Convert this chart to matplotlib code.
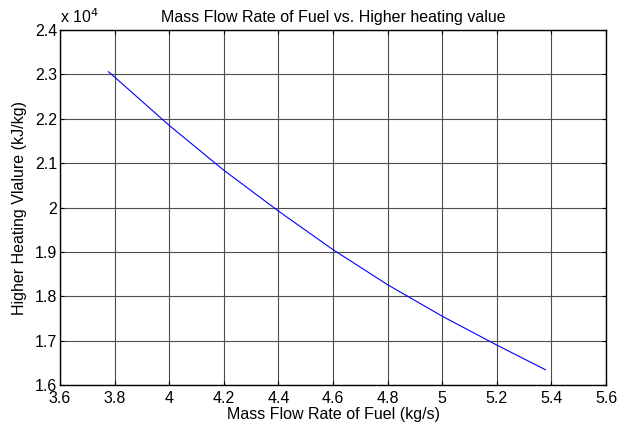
import matplotlib
matplotlib.use("Agg")
import matplotlib.pyplot as plt
from matplotlib.ticker import FuncFormatter

plt.rcParams['font.family'] = ['Liberation Sans', 'DejaVu Sans']

# values
mass_flow = [3.777, 3.8, 4.0, 4.2, 4.4, 4.6, 4.8, 5.0, 5.2, 5.378]
hhv = [23060, 22940, 21850, 20840, 19920, 19050, 18260, 17550, 16900, 16345]

x_ticks = [3.6, 3.8, 4.0, 4.2, 4.4, 4.6, 4.8, 5.0, 5.2, 5.4, 5.6]
y_ticks = [16000, 17000, 18000, 19000, 20000, 21000, 22000, 23000, 24000]

fs = 11.5

fig = plt.figure(figsize=(6.18, 4.25), dpi=100)
ax = fig.add_axes([0.0971, 0.0941, 0.8835, 0.8353])

ax.plot(mass_flow, hhv, color='#0000ff', lw=0.8)

ax.set_xlim(3.6, 5.6)
ax.set_ylim(16000, 24000)
ax.set_xticks(x_ticks)
ax.set_yticks(y_ticks)
ax.xaxis.set_major_formatter(FuncFormatter(lambda v, p: '%g' % round(v, 2)))
ax.yaxis.set_major_formatter(FuncFormatter(lambda v, p: '%g' % (v / 1e4)))

ax.grid(True, color='0.3', lw=0.8)
ax.tick_params(direction='in', top=True, right=True, length=3, labelsize=fs)
ax.tick_params(axis='x', pad=4)
ax.tick_params(axis='y', pad=2)
for s in ax.spines.values():
    s.set_linewidth(1.0)

ax.text(0.0, 1.01, 'x 10$^4$', transform=ax.transAxes, fontsize=fs, ha='left', va='bottom')
ax.set_title('Mass Flow Rate of Fuel vs. Higher heating value', fontsize=fs, pad=6)
ax.set_xlabel('Mass Flow Rate of Fuel (kg/s)', fontsize=fs, labelpad=1)
ax.set_ylabel('Higher Heating Vlalure (kJ/kg)', fontsize=fs, labelpad=6)

fig.savefig('out.png', dpi=100)
